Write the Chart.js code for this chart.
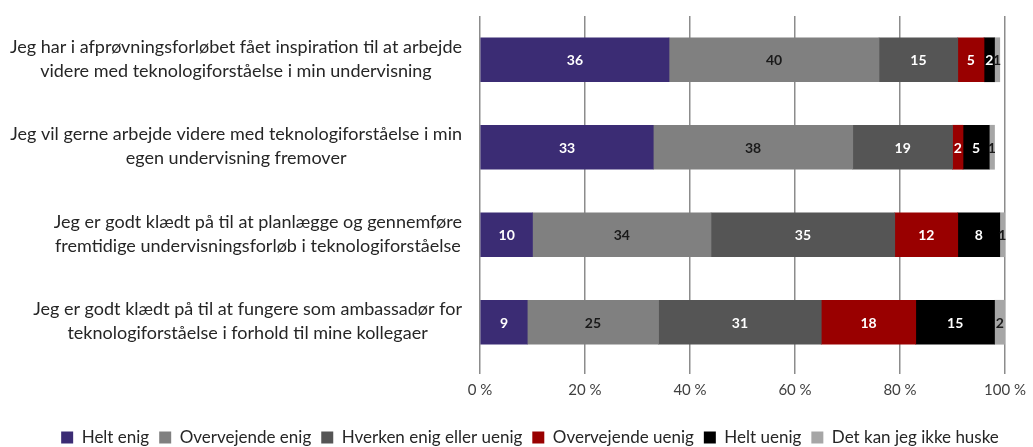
<!DOCTYPE html>
<html>
<head>
<meta charset="utf-8">
<script src="https://cdn.jsdelivr.net/npm/chart.js@4/dist/chart.umd.min.js"></script>
<style>
    html, body { margin: 0; padding: 0; background: #fff; }
    #wrap { width: 1033px; height: 447px; position: relative; }
</style>
</head>
<body>
<div id="wrap"><canvas id="chart"></canvas></div>
<script>
// spørgsmål (y-akse), hver linje for sig
const categories = [
    ['Jeg har i afprøvningsforløbet fået inspiration til at arbejde', 'videre med teknologiforståelse i min undervisning'],
    ['Jeg vil gerne arbejde videre med teknologiforståelse i min', 'egen undervisning fremover'],
    ['Jeg er godt klædt på til at planlægge og gennemføre', 'fremtidige undervisningsforløb i teknologiforståelse'],
    ['Jeg er godt klædt på til at fungere som ambassadør for', 'teknologiforståelse i forhold til mine kollegaer']
]

const seriesNames = ['Helt enig', 'Overvejende enig', 'Hverken enig eller uenig', 'Overvejende uenig', 'Helt uenig', 'Det kan jeg ikke huske']

const heltEnig = [36, 33, 10, 9]
const overvejendeEnig = [40, 38, 34, 25]
const hverken = [15, 19, 35, 31]
const overvejendeUenig = [5, 2, 12, 18]
const heltUenig = [2, 5, 8, 15]
const kanIkkeHuske = [1, 1, 1, 2]

const xTicks = [0, 20, 40, 60, 80, 100]

const colors = ['#3b2c74', '#808080', '#555555', '#990000', '#000000', '#a6a6a6']
const labelColors = ['#ffffff', '#1a1a1a', '#ffffff', '#ffffff', '#ffffff', '#1a1a1a']

const FONT = 'Lato'

const values = [heltEnig, overvejendeEnig, hverken, overvejendeUenig, heltUenig, kanIkkeHuske]

// tal midt i hver bar
const barLabels = {
    id: 'barLabels',
    afterDatasetsDraw(chart) {
        const ctx = chart.ctx
        ctx.save()
        ctx.font = `bold 14px ${FONT}`
        ctx.textAlign = 'center'
        ctx.textBaseline = 'middle'
        chart.data.datasets.forEach((ds, i) => {
            const meta = chart.getDatasetMeta(i)
            meta.data.forEach((bar, j) => {
                const p = bar.getProps(['x', 'y', 'base'], true)
                ctx.fillStyle = labelColors[i]
                ctx.fillText(ds.data[j], (p.x + p.base) / 2, p.y + 1)
            })
        })
        ctx.restore()
    }
}

// y-labels: blok højrestillet, linjerne centreret inden for blokken
const yLabels = {
    id: 'yLabels',
    afterDraw(chart) {
        const ctx = chart.ctx
        const yScale = chart.scales.y
        const right = chart.chartArea.left - 18
        const lineH = 24
        ctx.save()
        ctx.font = `18px ${FONT}`
        ctx.fillStyle = '#262626'
        ctx.textAlign = 'center'
        ctx.textBaseline = 'middle'
        categories.forEach((lines, i) => {
            const w = Math.max(...lines.map(l => ctx.measureText(l).width))
            const cx = right - w / 2
            const cy = yScale.getPixelForTick(i)
            lines.forEach((line, k) => {
                ctx.fillText(line, cx, cy + (k - (lines.length - 1) / 2) * lineH - 1)
            })
        })
        ctx.restore()
    }
}

// flyt legenden lidt mod højre
const shiftLegend = {
    id: 'shiftLegend',
    afterLayout(chart) {
        chart.legend.left += 26
        chart.legend.right += 26
    }
}

const ctx = document.getElementById('chart').getContext('2d')
const chart = new Chart(ctx, {
    type: 'bar',
    data: {
        labels: categories.map(c => c.join(' ')),
        datasets: seriesNames.map((name, i) => ({
            label: name,
            data: values[i],
            backgroundColor: colors[i],
            borderWidth: 0,
            barThickness: 44
        }))
    },
    options: {
        indexAxis: 'y',
        responsive: true,
        maintainAspectRatio: false,
        animation: false,
        layout: {
            padding: { left: 0, right: 25, top: 16, bottom: -9 }
        },
        scales: {
            x: {
                stacked: true,
                min: 0,
                max: 100,
                afterBuildTicks: scale => {
                    scale.ticks = xTicks.map(v => ({ value: v }))
                },
                ticks: {
                    callback: v => v + ' %',
                    font: { family: FONT, size: 15 },
                    color: '#404040',
                    padding: 7
                },
                grid: {
                    color: '#8c8c8c',
                    lineWidth: 1.5,
                    tickLength: 8,
                    drawTicks: true
                },
                border: { display: false },
                afterFit: scale => { scale.height = 53 }
            },
            y: {
                stacked: true,
                ticks: { display: false },
                grid: { display: false },
                border: { display: false },
                afterFit: scale => { scale.width = 480 }
            }
        },
        plugins: {
            legend: {
                position: 'bottom',
                labels: {
                    font: { family: FONT, size: 17 },
                    color: '#262626',
                    boxWidth: 12,
                    boxHeight: 12,
                    padding: 10
                }
            },
            tooltip: { enabled: false }
        }
    },
    plugins: [barLabels, yLabels, shiftLegend]
})
</script>
</body>
</html>
